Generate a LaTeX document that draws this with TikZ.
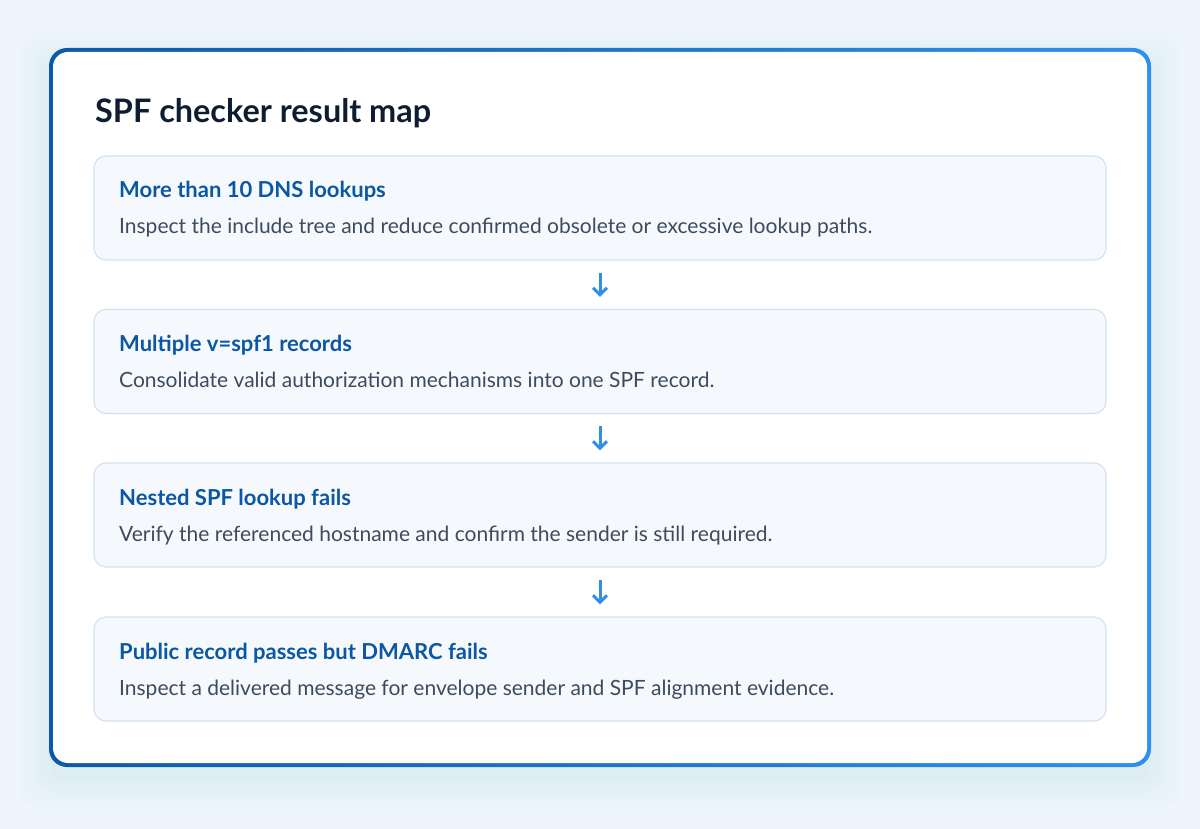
\documentclass[tikz,border=0pt]{standalone}
\usepackage{fontspec}
\setmainfont{Lato}
\usetikzlibrary{arrows.meta}

\definecolor{pagebg}{HTML}{EEF5FC}
\definecolor{framedark}{HTML}{0B5AA8}
\definecolor{framelight}{HTML}{2E90EC}
\definecolor{cardfill}{HTML}{F5F9FD}
\definecolor{cardline}{HTML}{D3E2F3}
\definecolor{titleink}{HTML}{0E1D30}
\definecolor{headink}{HTML}{0B57A3}
\definecolor{bodyink}{HTML}{3E4B5C}
\definecolor{arrowblue}{HTML}{2F8FE8}

\begin{document}
\begin{tikzpicture}[x=1pt,y=-1pt,
  card/.style={draw=cardline, line width=1.2pt, fill=cardfill, rounded corners=12pt,
    minimum width=1012pt, minimum height=104pt, inner sep=0pt},
  head/.style={anchor=base west, inner sep=0pt, text=headink,
    font=\fontsize{22}{26}\selectfont\bfseries},
  body/.style={anchor=base west, inner sep=0pt, text=bodyink,
    font=\fontsize{21}{25}\selectfont},
  flow/.style={draw=arrowblue, line width=3pt, -{Straight Barb[length=7pt,width=14pt]},
    shorten <=12pt, shorten >=12pt}]

\useasboundingbox (0,0) rectangle (1200,829);
\fill[pagebg] (0,0) rectangle (1200,829);

% soft shadow under the frame
\foreach \s in {2,6,...,30}
  \fill[framelight, opacity=0.007, rounded corners=22pt]
    (50-\s,62-\s) rectangle (1150+\s,779+\s);

% frame
\shade[rounded corners=18pt, left color=framedark, right color=framelight]
  (49,48) rectangle (1151,767);
\fill[white, rounded corners=15pt] (53,52) rectangle (1147,763);

\node[anchor=base west, inner sep=0pt, text=titleink,
  font=\fontsize{32.4}{38}\selectfont\bfseries] (title) at (95,122.5) {SPF checker result map};

% result cards
\node[card] (c1) at (600,208) {};
\node[card] (c2) at (600,361.5) {};
\node[card] (c3) at (600,515) {};
\node[card] (c4) at (600,669) {};

\node[head] (h1) at (119,198) {More than 10 DNS lookups};
\node[body] (b1) at (119,234) {Inspect the include tree and reduce confirmed obsolete or excessive lookup paths.};

\node[head] (h2) at (119,351.5) {Multiple v=spf1 records};
\node[body] (b2) at (119,387.5) {Consolidate valid authorization mechanisms into one SPF record.};

\node[head] (h3) at (119,505) {Nested SPF lookup fails};
\node[body] (b3) at (119,541) {Verify the referenced hostname and confirm the sender is still required.};

\node[head] (h4) at (119,659) {Public record passes but DMARC fails};
\node[body] (b4) at (119,695) {Inspect a delivered message for envelope sender and SPF alignment evidence.};

\draw[flow] (c1) -- (c2);
\draw[flow] (c2) -- (c3);
\draw[flow] (c3) -- (c4);

\end{tikzpicture}
\end{document}
